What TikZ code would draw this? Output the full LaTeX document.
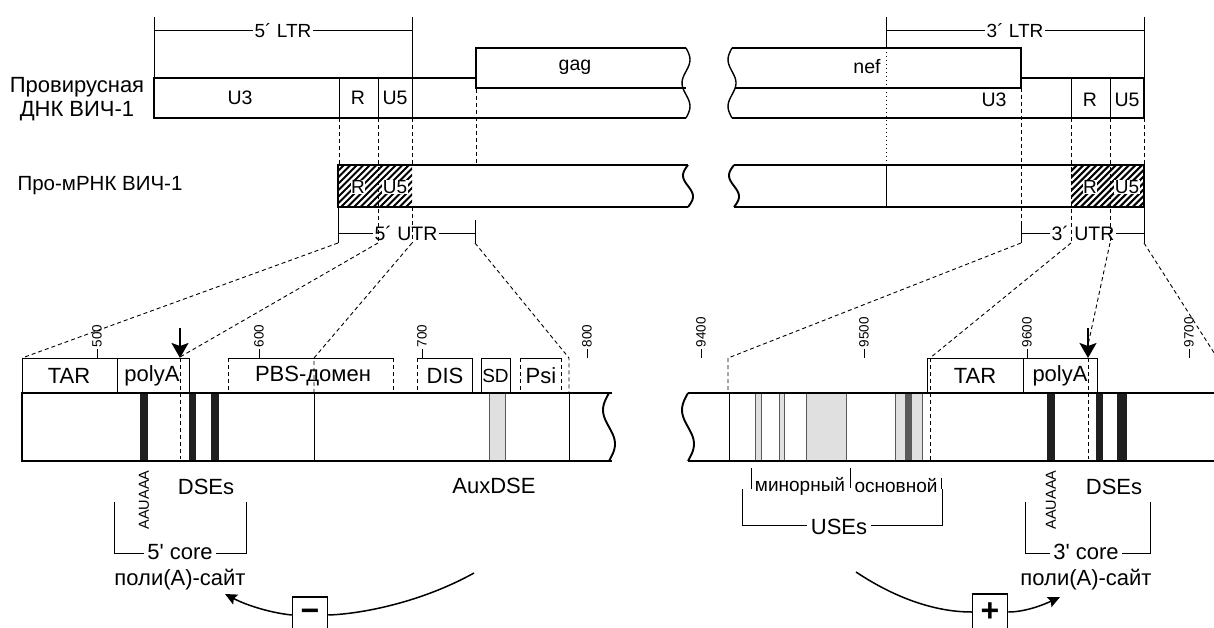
\documentclass[tikz,border=0pt]{standalone}
\usepackage{fontspec}
\setmainfont{Liberation Sans}[Ligatures=TeXOff]
\usetikzlibrary{arrows.meta}
\begin{document}
\begin{tikzpicture}[x=1pt,y=-1pt,
  barline/.style={line width=1.9pt, line join=miter},
  boxline/.style={line width=1.4pt},
  fine/.style={line width=0.9pt},
  dsh/.style={line width=0.9pt, dash pattern=on 4pt off 3pt},
  dotl/.style={line width=0.9pt, dash pattern=on 1.5pt off 2.5pt},
  t22/.style={font=\fontsize{22}{24}\selectfont, inner sep=1pt},
  t21/.style={font=\fontsize{20.5}{22}\selectfont, inner sep=1pt},
  t18/.style={font=\fontsize{19.5}{21}\selectfont, inner sep=1pt},
  t17/.style={font=\fontsize{19}{21}\selectfont, inner sep=1pt},
  t19/.style={font=\fontsize{19}{21}\selectfont, inner sep=0.5pt},
  tick/.style={font=\fontsize{13.5}{14}\selectfont, inner sep=0.5pt, rotate=90, anchor=west},
  vlab/.style={font=\fontsize{14.5}{15}\selectfont, inner sep=0.5pt, rotate=90},
  band/.style={fill=black!88, draw=none},
  grayband/.style={fill=black!12, draw=black!65, line width=0.8pt},
  hatchtxt/.style={font=\fontsize{19}{21}\selectfont, fill=white, inner sep=0.4pt},
  brk/.style={fill=white, inner sep=2pt},
  cleave/.style={line width=2pt, -{Stealth[width=17pt,length=15pt,inset=3pt]}},
  curvearrow/.style={line width=1.5pt, -{Stealth[width=11pt,length=12pt,inset=2pt]}},
  signbox/.style={draw, line width=1.5pt, fill=white, minimum width=35pt, minimum height=36pt, inner sep=0pt, font=\fontsize{32}{32}\selectfont\bfseries},
]
\useasboundingbox (0,0) rectangle (1214,628);

% ---------- left labels ----------
\node[t22] (prov1) at (77,87) {Провирусная};
\node[t22] (prov2) at (77,111) {ДНК ВИЧ-1};
\node[t21] (mrna) at (100,186) {Про-мРНК ВИЧ-1};

% ---------- LTR brackets ----------
\draw[fine] (154,17) -- (154,78);
\draw[fine] (412,17) -- (412,78);
\draw[fine] (154,30) -- (412,30);
\node[t17,brk] (ltr5) at (283,31) {5´ LTR};
\draw[fine] (886,17) -- (886,48);
\draw[fine] (1144,17) -- (1144,78);
\draw[fine] (886,30) -- (1144,30);
\node[t17,brk] (ltr3) at (1015,31) {3´ LTR};

% ---------- proviral DNA, left ----------
\draw[barline] (476,78) -- (154,78) -- (154,118) -- (686,118);
\draw[boxline] (476,89) -- (476,48) -- (686,48);
\draw[boxline] (476,88) -- (686,88);
\draw[boxline] plot[domain=0:1,samples=30,variable=\t] ({686+4*sin(540*\t)},{48+70*\t});
\draw[fine] (339,78)--(339,118) (378,78)--(378,118) (412,78)--(412,118);
\node[t18] (u3a) at (240,98) {U3};
\node[t18] (ra) at (358,98) {R};
\node[t18] (u5a) at (395,98) {U5};
\node[t18] (gag) at (575,67) {gag};

% ---------- proviral DNA, right ----------
\draw[boxline] plot[domain=0:1,samples=30,variable=\t] ({732-4*sin(540*\t)},{48+70*\t});
\draw[boxline] (732,48) -- (1021,48) -- (1021,88) -- (735,88);
\draw[barline] (1021,78) -- (1144,78) -- (1144,118) -- (732,118);
\draw[fine] (1071,78)--(1071,118) (1110,78)--(1110,118);
\node[t18] (nef) at (867,67) {nef};
\node[t18] (u3b) at (994,100) {U3};
\node[t18] (rb) at (1090,100) {R};
\node[t18] (u5b) at (1127,100) {U5};

% ---------- pro-mRNA, left ----------
\begin{scope}
  \clip (338,165) rectangle (412,207);
  \foreach \i in {-49,-42.5,...,84} \draw[line width=2.1pt] (338+\i,207) -- (380+\i,165);
\end{scope}
\node[hatchtxt] (rc) at (358,187) {R};
\node[hatchtxt] (u5c) at (395,187) {U5};
\draw[barline] (688,165) -- (338,165) -- (338,207) -- (688,207);
\draw[barline] plot[domain=0:1,samples=30,variable=\t] ({688-5*sin(360*\t)},{165+42*\t});

% ---------- pro-mRNA, right ----------
\begin{scope}
  \clip (1071,165) rectangle (1144,207);
  \foreach \i in {-49,-42.5,...,84} \draw[line width=2.1pt] (1071+\i,207) -- (1113+\i,165);
\end{scope}
\node[hatchtxt] (rd) at (1090,187) {R};
\node[hatchtxt] (u5d) at (1127,187) {U5};
\draw[barline] (734,165) -- (1144,165) -- (1144,207) -- (734,207);
\draw[barline] plot[domain=0:1,samples=30,variable=\t] ({734-5*sin(360*\t)},{165+42*\t});
\draw[fine] (886,165) -- (886,207);

% ---------- UTR brackets ----------
\draw[fine] (338,207) -- (338,243);
\draw[fine] (475,220) -- (475,243);
\draw[fine] (338,233) -- (475,233);
\node[t18,brk] (utr5) at (406,233) {5´ UTR};
\draw[fine] (1021,222) -- (1021,243);
\draw[fine] (1144,207) -- (1144,243);
\draw[fine] (1021,233) -- (1144,233);
\node[t18,brk] (utr3) at (1083,233) {3´ UTR};

% ---------- dashed guides DNA -> mRNA ----------
\draw[dsh] (339,118) -- (339,165);
\draw[dsh] (378,118) -- (378,243);
\draw[dsh] (412,118) -- (412,165);
\draw[dsh] (412,207) -- (412,243);
\draw[dsh] (476,89) -- (476,165);
\draw[dotl] (886,48) -- (886,165);
\draw[dsh] (1021,88) -- (1021,243);
\draw[dsh] (1071,118) -- (1071,243);
\draw[dsh] (1110,118) -- (1110,243);
\draw[dsh] (1144,118) -- (1144,165);

% ---------- zoom lines ----------
\draw[dsh] (338,243) -- (22,358);
\draw[dsh] (378,243) -- (180,357);
\draw[dsh] (412,243) -- (314,358) -- (314,393);
\draw[dsh] (475,243) -- (569,358) -- (569,393);
\draw[dsh] (1021,243) -- (728,358) -- (728,393);
\draw[dsh] (1071,243) -- (930,358);
\draw[dsh] (1110,243) -- (1088,345);
\draw[dsh] (1144,243) -- (1232,381);

% ---------- tick labels ----------
\foreach \x/\n in {97/500, 259/600, 422/700, 587/800, 701/9400, 864/9500, 1027/9600, 1189/9700} {
  \node[tick] at (\x,348) {\n};
  \draw[fine] (\x,349) -- (\x,358);
}

% ---------- lower left: boxes ----------
\draw[fine] (22,358) rectangle (117,393);
\draw[fine] (117,358) rectangle (189,393);
\node[t22] (tar1) at (69,376) {TAR};
\node[t22] (polya1) at (152,376) {polyA};
\draw[fine] (228,358) -- (393,358);
\draw[dsh] (228,358) -- (228,393) (393,358) -- (393,393);
\node[t22] (pbs) at (313,376) {PBS-домен};
\draw[fine] (417,358) -- (472,358) -- (472,393);
\draw[dsh] (417,358) -- (417,393);
\node[t22] (dis) at (445,376) {DIS};
\draw[fine] (481,358) rectangle (510,393);
\node[t19] (sd) at (495.5,376) {SD};
\draw[fine] (520,358) -- (561,358);
\draw[dsh] (520,358) -- (520,393) (561,358) -- (561,393);
\node[t22] (psi) at (541,376) {Psi};

% ---------- lower left: bar ----------
\fill[band] (140,393) rectangle (148,461);
\fill[band] (189,393) rectangle (196,461);
\fill[band] (211,393) rectangle (219,461);
\draw[grayband] (489,393) rectangle (505,461);
\draw[fine] (314,393) -- (314,461);
\draw[fine] (569,393) -- (569,461);
\draw[dsh] (180,358) -- (180,459);
\draw[barline] (612,393) -- (22,393) -- (22,461) -- (612,461);
\draw[barline] plot[domain=0:1,samples=30,variable=\t] ({609-6*sin(360*\t)},{393+68*\t});
\coordinate (cl1top) at (180,328);
\coordinate (cl1tip) at (180,358);
\draw[cleave] (cl1top) -- (cl1tip);

% ---------- lower right: boxes ----------
\draw[fine] (927,358) rectangle (1023,393);
\draw[fine] (1023,358) rectangle (1097,393);
\node[t22] (tar2) at (975,376) {TAR};
\node[t22] (polya2) at (1060,376) {polyA};

% ---------- lower right: bar ----------
\draw[fine] (729,393) -- (729,461);
\draw[grayband] (755,393) rectangle (761,461);
\draw[grayband] (779,393) rectangle (784,461);
\draw[grayband] (806,393) rectangle (846,461);
\draw[grayband] (895,393) rectangle (922,461);
\fill[black!65] (905,393) rectangle (912,461);
\draw[dsh] (930,358) -- (930,460);
\fill[band] (1047,393) rectangle (1055,461);
\fill[band] (1096,393) rectangle (1103,461);
\fill[band] (1117,393) rectangle (1127,461);
\draw[dsh] (1088,358) -- (1088,459);
\draw[barline] (1225,393) -- (688,393);
\draw[barline] (1225,461) -- (688,461);
\draw[barline] plot[domain=0:1,samples=30,variable=\t] ({688-6*sin(360*\t)},{393+68*\t});
\coordinate (cl2top) at (1088,328);
\coordinate (cl2tip) at (1088,358);
\draw[cleave] (cl2top) -- (cl2tip);

% ---------- lower left: annotations ----------
\node[vlab] (aau1) at (144,500) {AAUAAA};
\node[t22] (dse1) at (206,487) {DSEs};
\node[t22] (aux) at (494,486) {AuxDSE};
\draw[fine] (114,502) -- (114,553) -- (246,553) -- (246,502);
\node[t22,brk,inner sep=3pt] (core5) at (180,552) {5' core};
\node[t22] (pas1) at (180,580) {поли(A)-сайт};

% ---------- lower right: annotations ----------
\draw[fine] (751,468) -- (751,489);
\draw[fine] (850,468) -- (850,488);
\draw[fine] (941,478) -- (941,489);
\node[t19] (minor) at (800,486) {минорный};
\node[t19] (major) at (896,486) {основной};
\draw[fine] (742,489) -- (742,525) -- (942,525) -- (942,489);
\node[t22,brk,inner sep=4pt] (uses) at (839,527) {USEs};
\node[vlab] (aau2) at (1051,500) {AAUAAA};
\node[t22] (dse2) at (1114,487) {DSEs};
\draw[fine] (1025,502) -- (1025,553) -- (1150,553) -- (1150,502);
\node[t22,brk,inner sep=3pt] (core3) at (1086,552) {3' core};
\node[t22] (pas2) at (1086,580) {поли(A)-сайт};

% ---------- regulation arrows ----------
\node[signbox] (minus) at (310,615) {−};
\coordinate (mstart) at (474,573);
\coordinate (mend) at (225,594);
\draw[line width=1.5pt] (mstart) .. controls (420,603) and (360,614) .. (minus.east);
\draw[curvearrow] (minus.west) .. controls (272,613) and (248,606) .. (mend);

\node[signbox] (plus) at (990,612) {+};
\coordinate (pstart) at (856,572);
\coordinate (pend) at (1060,597);
\draw[line width=1.5pt] (pstart) .. controls (895,598) and (935,612) .. (plus.west);
\draw[curvearrow] (plus.east) .. controls (1025,612) and (1043,605) .. (pend);

\end{tikzpicture}
\end{document}
